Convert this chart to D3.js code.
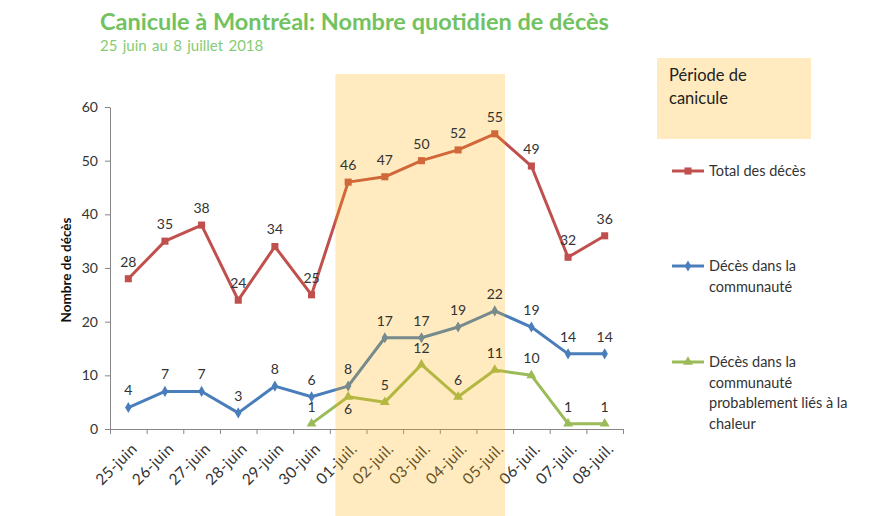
<!DOCTYPE html>
<html>
<head>
<meta charset="utf-8">
<script src="https://cdn.jsdelivr.net/npm/d3@7"></script>
<style>
  body { margin: 0; background: #fff; }
  text { font-family: Lato, "Open Sans", sans-serif; }
</style>
</head>
<body>
<div id="canvas"></div>
<script>
"use strict"

let drawingWidth = 870;
let drawingHeight = 516;

/* The chart data */
let days = ["25-juin", "26-juin", "27-juin", "28-juin", "29-juin", "30-juin",
    "01-juil.", "02-juil.", "03-juil.", "04-juil.", "05-juil.", "06-juil.", "07-juil.", "08-juil."];
let totalDeaths = [28, 35, 38, 24, 34, 25, 46, 47, 50, 52, 55, 49, 32, 36];
let communityDeaths = [4, 7, 7, 3, 8, 6, 8, 17, 17, 19, 22, 19, 14, 14];
let heatDeaths = [null, null, null, null, null, 1, 6, 5, 12, 6, 11, 10, 1, 1];
let yTicks = [0, 10, 20, 30, 40, 50, 60];
let heatwaveFirst = "01-juil.";
let heatwaveLast = "05-juil.";

let drawing = d3.select("#canvas")
    .append("svg")
    .attr("width", drawingWidth)
    .attr("height", drawingHeight);

drawing.append("rect")
    .attr("width", drawingWidth)
    .attr("height", drawingHeight)
    .attr("fill", "white");

/* Title */
drawing.append("text")
    .attr("x", 100).attr("y", 30)
    .attr("font-size", 23.5).attr("font-weight", "bold")
    .attr("fill", "#72c25f")
    .text("Canicule à Montréal: Nombre quotidien de décès");

drawing.append("text")
    .attr("x", 100).attr("y", 51)
    .attr("font-size", 15)
    .attr("word-spacing", 1.5)
    .attr("fill", "#86cb73")
    .text("25 juin au 8 juillet 2018");

/* Scales */
let plotLeft = 110, plotRight = 623, plotTop = 107, plotBottom = 429;
let y = d3.scaleLinear().domain([0, 60]).range([plotBottom, plotTop]);
let xEdge = d3.scaleLinear().domain([0, days.length]).range([plotLeft, plotRight]);
let x = d3.scaleBand().domain(days).range([plotLeft, plotRight]);
let cx = d => x(d) + x.bandwidth() / 2;

/* Axes */
let yAxis = drawing.append("g")
    .attr("transform", "translate(" + plotLeft + ",0)")
    .call(d3.axisLeft(y).tickValues(yTicks).tickSize(5).tickSizeOuter(0).tickPadding(7));
yAxis.selectAll("path, line").attr("stroke", "#868686");
yAxis.selectAll("text").attr("font-size", 14).attr("fill", "#333")
    .style("font-family", "Lato, sans-serif");

let xAxis = drawing.append("g")
    .attr("transform", "translate(0," + plotBottom + ")")
    .call(d3.axisBottom(xEdge).tickValues(d3.range(days.length + 1)).tickFormat("").tickSize(5).tickSizeOuter(0));
xAxis.selectAll("path, line").attr("stroke", "#868686");

drawing.append("g").selectAll("text")
    .data(days)
    .join("text")
    .attr("transform", d => "translate(" + (cx(d) + 6) + "," + (plotBottom + 17) + ") rotate(-45)")
    .attr("text-anchor", "end")
    .attr("dy", "0.35em")
    .attr("font-size", 15.5)
    .attr("letter-spacing", 0.4)
    .attr("fill", "#333")
    .text(d => d);

drawing.append("text")
    .attr("transform", "translate(71," + ((plotTop + plotBottom) / 2 + 2) + ") rotate(-90)")
    .attr("text-anchor", "middle")
    .attr("font-size", 13.5).attr("font-weight", "bold")
    .attr("fill", "#111")
    .text("Nombre de décès");

/* Lines */
let series = [
    { values: totalDeaths, color: "#c0504d", symbol: d3.symbolSquare, size: 50 },
    { values: communityDeaths, color: "#4a7ebb", symbol: d3.symbolDiamond, size: 36 },
    { values: heatDeaths, color: "#9bbb59", symbol: d3.symbolTriangle, size: 42 }
];

let line = d3.line()
    .defined(d => d.v != null)
    .x(d => cx(d.day))
    .y(d => y(d.v));

series.forEach(s => {
    let pts = days.map((day, i) => ({ day: day, v: s.values[i] }));
    drawing.append("path")
        .datum(pts)
        .attr("d", line)
        .attr("fill", "none")
        .attr("stroke", s.color)
        .attr("stroke-width", 3)
        .attr("stroke-linejoin", "round");
    drawing.append("g").selectAll("path")
        .data(pts.filter(p => p.v != null))
        .join("path")
        .attr("transform", p => "translate(" + cx(p.day) + "," + y(p.v) + ")")
        .attr("d", d3.symbol().type(s.symbol).size(s.size))
        .attr("fill", s.color);
});

/* Heatwave band, laid over the lines */
let step = x.step();
let bandX0 = x(heatwaveFirst) + step * 0.15;
let bandX1 = x(heatwaveLast) + step * 0.78;
drawing.append("rect")
    .attr("x", bandX0).attr("y", 74)
    .attr("width", bandX1 - bandX0)
    .attr("height", drawingHeight - 74)
    .attr("fill", "#ffb000")
    .attr("fill-opacity", 0.25);

/* Value labels */
let labelsBelow = [[2, "01-juil."]];
series.forEach((s, k) => {
    drawing.append("g").selectAll("text")
        .data(days.map((day, i) => ({ day: day, v: s.values[i] })).filter(p => p.v != null))
        .join("text")
        .attr("x", p => cx(p.day))
        .attr("y", p => {
            let below = labelsBelow.some(b => b[0] === k && b[1] === p.day);
            return y(p.v) + (below ? 12 : -17);
        })
        .attr("dy", "0.35em")
        .attr("text-anchor", "middle")
        .attr("font-size", 14)
        .attr("fill", "#333")
        .text(p => p.v);
});

/* Legend */
drawing.append("rect")
    .attr("x", 657).attr("y", 58)
    .attr("width", 154).attr("height", 81)
    .attr("fill", "#ffb000")
    .attr("fill-opacity", 0.25);
drawing.append("text")
    .attr("x", 669).attr("y", 81)
    .attr("font-size", 16.5).attr("fill", "#222")
    .text("Période de");
drawing.append("text")
    .attr("x", 669).attr("y", 104)
    .attr("font-size", 16.5).attr("fill", "#222")
    .text("canicule");

let legendRows = [
    { y: 171, lines: ["Total des décès"] },
    { y: 266, lines: ["Décès dans la", "communauté"] },
    { y: 362, lines: ["Décès dans la", "communauté", "probablement liés à la", "chaleur"] }
];

legendRows.forEach((row, k) => {
    let s = series[k];
    drawing.append("line")
        .attr("x1", 672).attr("x2", 704)
        .attr("y1", row.y).attr("y2", row.y)
        .attr("stroke", s.color).attr("stroke-width", 3);
    drawing.append("path")
        .attr("transform", "translate(688," + row.y + ")")
        .attr("d", d3.symbol().type(s.symbol).size(s.size))
        .attr("fill", s.color);
    drawing.append("text")
        .attr("x", 709).attr("y", row.y)
        .attr("font-size", 14.5).attr("fill", "#333")
        .selectAll("tspan")
        .data(row.lines)
        .join("tspan")
        .attr("x", 709)
        .attr("dy", (d, i) => i === 0 ? "0.35em" : "1.42em")
        .text(d => d);
});
</script>
</body>
</html>
